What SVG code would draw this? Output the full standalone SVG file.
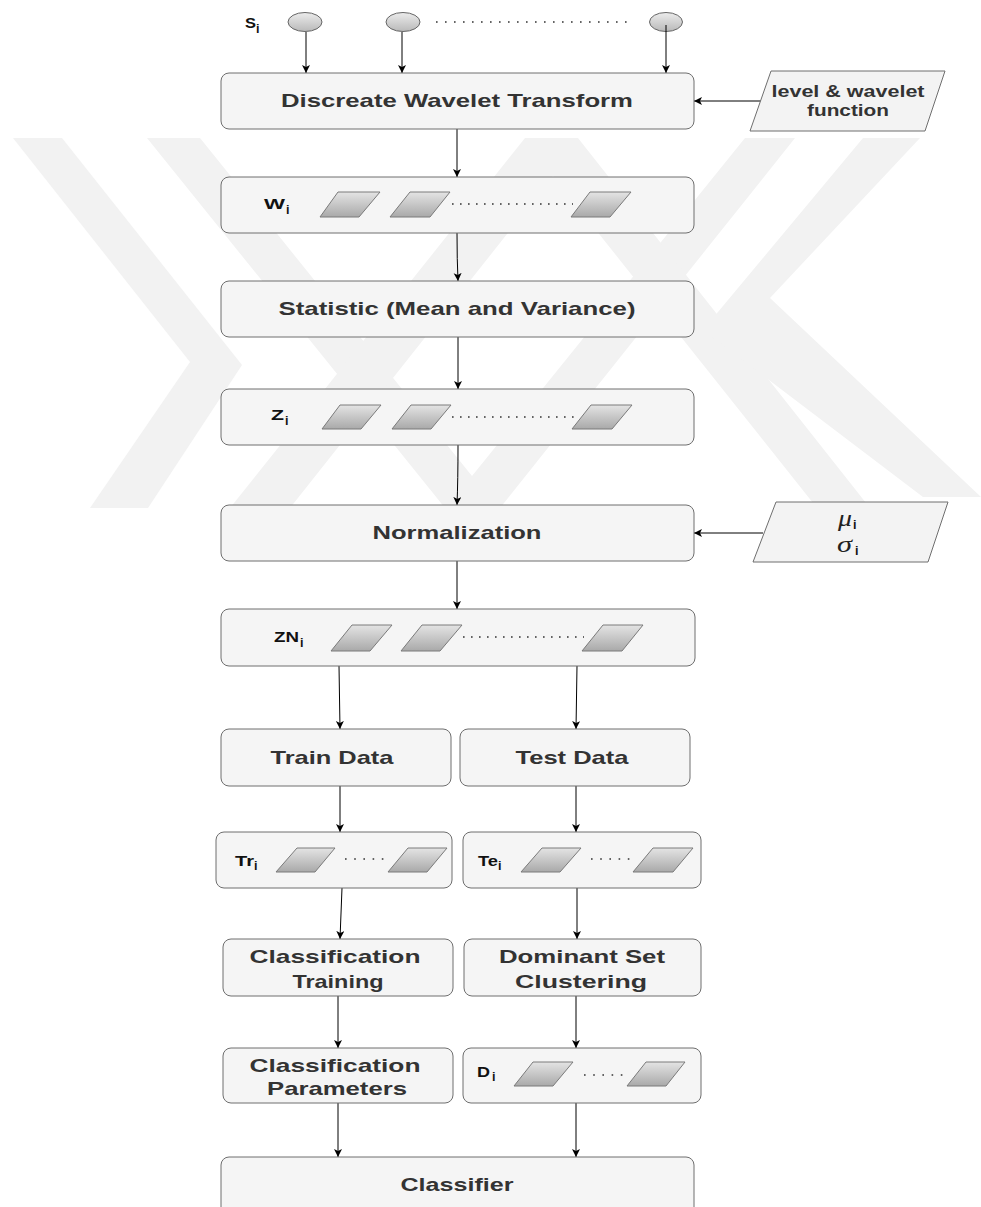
<svg xmlns="http://www.w3.org/2000/svg" width="981" height="1207" viewBox="0 0 981 1207">
<defs>
<style>
.wm{fill:#f2f2f2;stroke:none}
.box{fill:#f5f5f5;stroke:#6e6e6e;stroke-width:1}
.io{fill:#f3f3f3;stroke:#6e6e6e;stroke-width:1}
.t{font-family:"Liberation Sans",Arial,sans-serif;font-weight:bold;font-size:18.5px;fill:#333;text-anchor:middle}
.ts{font-family:"Liberation Sans",Arial,sans-serif;font-weight:bold;font-size:16px;fill:#333;text-anchor:middle}
.lb{font-family:"Liberation Sans",Arial,sans-serif;font-weight:bold;font-size:15.5px;fill:#111}
.sb{font-family:"Liberation Sans",Arial,sans-serif;font-weight:bold;font-size:12.5px;fill:#111}
.mi{font-family:"Liberation Serif","DejaVu Serif",serif;font-style:italic;font-size:24px;fill:#222}
.pg{fill:url(#pgGrad);stroke:#7a7a7a;stroke-width:1}
.el{fill:url(#elGrad);stroke:#666;stroke-width:1}
.dots{stroke:#333;stroke-width:1.6;fill:none}
.c{stroke:#000;stroke-width:1;fill:none;marker-end:url(#ah)}
</style>
<linearGradient id="pgGrad" x1="0" y1="0" x2="0" y2="1">
<stop offset="0" stop-color="#e4e4e4"/>
<stop offset="1" stop-color="#a9a9a9"/>
</linearGradient>
<linearGradient id="elGrad" x1="0" y1="0" x2="0" y2="1">
<stop offset="0" stop-color="#ececec"/>
<stop offset="1" stop-color="#b9b9b9"/>
</linearGradient>
<marker id="ah" markerWidth="9" markerHeight="9" refX="8" refY="4" orient="auto" markerUnits="userSpaceOnUse">
<path d="M0,0 L8,4 L0,8 L2,4 Z" fill="#000"/>
</marker>
</defs>

<g id="watermark">
<polygon class="wm" points="13,138 62,138 242,365 148,508 90,508 190,362"/>
<polygon class="wm" points="147,138 200,138 472,476 745,138 795,138 500,508 445,508"/>
<polygon class="wm" points="230,508 525,138 578,138 870,508 817,508 553,176 290,508"/>
<polygon class="wm" points="863,138 920,138 770,298 981,497 923,497 703,330"/>
</g>

<g id="connectors">
<line class="c" x1="306" y1="32" x2="306" y2="73"/>
<line class="c" x1="402" y1="32" x2="402" y2="73"/>
<line class="c" x1="762" y1="101" x2="694" y2="101"/>
<line class="c" x1="457" y1="129" x2="457" y2="177"/>
<path class="c" d="M457,233 Q457,260 458,281"/>
<line class="c" x1="458" y1="337" x2="458" y2="389"/>
<path class="c" d="M458,445 Q458,480 457,505"/>
<line class="c" x1="763" y1="533" x2="694" y2="533"/>
<line class="c" x1="457" y1="561" x2="457" y2="609"/>
<line class="c" x1="339" y1="666" x2="340" y2="729"/>
<line class="c" x1="577" y1="666" x2="576" y2="729"/>
<line class="c" x1="340" y1="786" x2="340" y2="832"/>
<line class="c" x1="576" y1="786" x2="576" y2="832"/>
<line class="c" x1="342" y1="888" x2="340" y2="939"/>
<line class="c" x1="577" y1="888" x2="577" y2="939"/>
<line class="c" x1="338" y1="996" x2="338" y2="1048"/>
<line class="c" x1="576" y1="996" x2="576" y2="1048"/>
<line class="c" x1="338" y1="1103" x2="338" y2="1157"/>
<line class="c" x1="576" y1="1103" x2="576" y2="1157"/>
</g>

<g id="inputs">
<ellipse class="el" cx="305" cy="22" rx="17" ry="9.5"/>
<ellipse class="el" cx="403" cy="22" rx="17" ry="9.5"/>
<ellipse class="el" cx="666" cy="22" rx="16.5" ry="9.5"/>
<line class="dots" x1="436" y1="22" x2="630" y2="22" stroke-dasharray="1.6 7.4"/>
<text class="lb" x="245" y="28" textLength="11" lengthAdjust="spacingAndGlyphs">S</text>
<text class="sb" x="256" y="33">i</text>
<line class="c" x1="666" y1="25" x2="666" y2="73"/>
</g>

<g id="dwt">
<rect class="box" x="221" y="73" width="473" height="56" rx="8"/>
<text class="t" x="457" y="107" textLength="352" lengthAdjust="spacingAndGlyphs">Discreate Wavelet Transform</text>
</g>

<g id="level-wavelet">
<polygon class="io" points="771,71 945,71 925,131 750,131"/>
<text class="ts" x="848" y="97" textLength="153" lengthAdjust="spacingAndGlyphs">level &amp; wavelet</text>
<text class="ts" x="848" y="116" textLength="82" lengthAdjust="spacingAndGlyphs">function</text>
</g>

<g id="wi">
<rect class="box" x="221" y="177" width="473" height="56" rx="8"/>
<text class="lb" x="264" y="209" textLength="21" lengthAdjust="spacingAndGlyphs">W</text>
<text class="sb" x="286" y="214">i</text>
<polygon class="pg" points="338,192 380,192 359,217 320,217"/>
<polygon class="pg" points="410,192 450,192 430,217 390,217"/>
<polygon class="pg" points="590,192 631,192 610,217 571,217"/>
<line class="dots" x1="452" y1="204" x2="573" y2="204" stroke-dasharray="1.6 6.4"/>
</g>

<g id="statistic">
<rect class="box" x="221" y="281" width="473" height="56" rx="8"/>
<text class="t" x="457" y="315" textLength="357" lengthAdjust="spacingAndGlyphs">Statistic (Mean and Variance)</text>
</g>

<g id="zi">
<rect class="box" x="221" y="389" width="473" height="56" rx="8"/>
<text class="lb" x="271" y="420" textLength="13" lengthAdjust="spacingAndGlyphs">Z</text>
<text class="sb" x="285" y="425">i</text>
<polygon class="pg" points="340,405 381,405 361,429 322,429"/>
<polygon class="pg" points="411,405 451,405 431,429 392,429"/>
<polygon class="pg" points="591,405 632,405 612,429 572,429"/>
<line class="dots" x1="452" y1="417" x2="574" y2="417" stroke-dasharray="1.6 6.4"/>
</g>

<g id="normalization">
<rect class="box" x="221" y="505" width="473" height="56" rx="8"/>
<text class="t" x="457" y="539" textLength="169" lengthAdjust="spacingAndGlyphs">Normalization</text>
</g>

<g id="mu-sigma">
<polygon class="io" points="776,502 948,502 928,562 753,562"/>
<text class="mi" x="838" y="526" textLength="14" lengthAdjust="spacingAndGlyphs">μ</text>
<text class="sb" x="853" y="529" font-size="13">i</text>
<text class="mi" x="837" y="552" textLength="15" lengthAdjust="spacingAndGlyphs">σ</text>
<text class="sb" x="855" y="555" font-size="13">i</text>
</g>

<g id="zni">
<rect class="box" x="221" y="609" width="474" height="57" rx="8"/>
<text class="lb" x="274" y="642" textLength="25" lengthAdjust="spacingAndGlyphs">ZN</text>
<text class="sb" x="300" y="647">i</text>
<polygon class="pg" points="352,625 392,625 370,651 331,651"/>
<polygon class="pg" points="422,625 462,625 440,651 401,651"/>
<polygon class="pg" points="603,625 643,625 622,651 582,651"/>
<line class="dots" x1="463" y1="637" x2="584" y2="637" stroke-dasharray="1.6 6.4"/>
</g>

<g id="train-data">
<rect class="box" x="221" y="729" width="230" height="57" rx="8"/>
<text class="t" x="332" y="764" textLength="123" lengthAdjust="spacingAndGlyphs">Train Data</text>
</g>

<g id="test-data">
<rect class="box" x="460" y="729" width="230" height="57" rx="8"/>
<text class="t" x="572" y="764" textLength="113" lengthAdjust="spacingAndGlyphs">Test Data</text>
</g>

<g id="tri">
<rect class="box" x="216" y="832" width="236" height="56" rx="8"/>
<text class="lb" x="235" y="866" textLength="19" lengthAdjust="spacingAndGlyphs">Tr</text>
<text class="sb" x="254" y="870">i</text>
<polygon class="pg" points="297,848 335,848 315,872 276,872"/>
<polygon class="pg" points="408,848 447,848 427,872 388,872"/>
<line class="dots" x1="345" y1="859" x2="384" y2="859" stroke-dasharray="1.6 7.6"/>
</g>

<g id="tei">
<rect class="box" x="463" y="832" width="238" height="56" rx="8"/>
<text class="lb" x="478" y="866" textLength="20" lengthAdjust="spacingAndGlyphs">Te</text>
<text class="sb" x="498" y="870">i</text>
<polygon class="pg" points="542,848 581,848 560,872 521,872"/>
<polygon class="pg" points="653,848 693,848 673,872 633,872"/>
<line class="dots" x1="591" y1="859" x2="630" y2="859" stroke-dasharray="1.6 7.6"/>
</g>

<g id="classification-training">
<rect class="box" x="223" y="939" width="230" height="57" rx="8"/>
<text class="t" x="335" y="963" textLength="171" lengthAdjust="spacingAndGlyphs">Classification</text>
<text class="t" x="338" y="988" textLength="91" lengthAdjust="spacingAndGlyphs">Training</text>
</g>

<g id="dominant-set-clustering">
<rect class="box" x="464" y="939" width="237" height="57" rx="8"/>
<text class="t" x="582" y="963" textLength="166" lengthAdjust="spacingAndGlyphs">Dominant Set</text>
<text class="t" x="581" y="988" textLength="132" lengthAdjust="spacingAndGlyphs">Clustering</text>
</g>

<g id="classification-parameters">
<rect class="box" x="223" y="1048" width="230" height="55" rx="8"/>
<text class="t" x="335" y="1072" textLength="171" lengthAdjust="spacingAndGlyphs">Classification</text>
<text class="t" x="337" y="1095" textLength="140" lengthAdjust="spacingAndGlyphs">Parameters</text>
</g>

<g id="di">
<rect class="box" x="463" y="1048" width="238" height="55" rx="8"/>
<text class="lb" x="477" y="1077" textLength="13" lengthAdjust="spacingAndGlyphs">D</text>
<text class="sb" x="492" y="1081">i</text>
<polygon class="pg" points="533,1062 573,1062 553,1086 514,1086"/>
<polygon class="pg" points="646,1062 685,1062 666,1086 627,1086"/>
<line class="dots" x1="584" y1="1075" x2="623" y2="1075" stroke-dasharray="1.6 7.6"/>
</g>

<g id="classifier">
<rect class="box" x="221" y="1157" width="473" height="70" rx="8"/>
<text class="t" x="457" y="1191" textLength="113" lengthAdjust="spacingAndGlyphs">Classifier</text>
</g>
</svg>
